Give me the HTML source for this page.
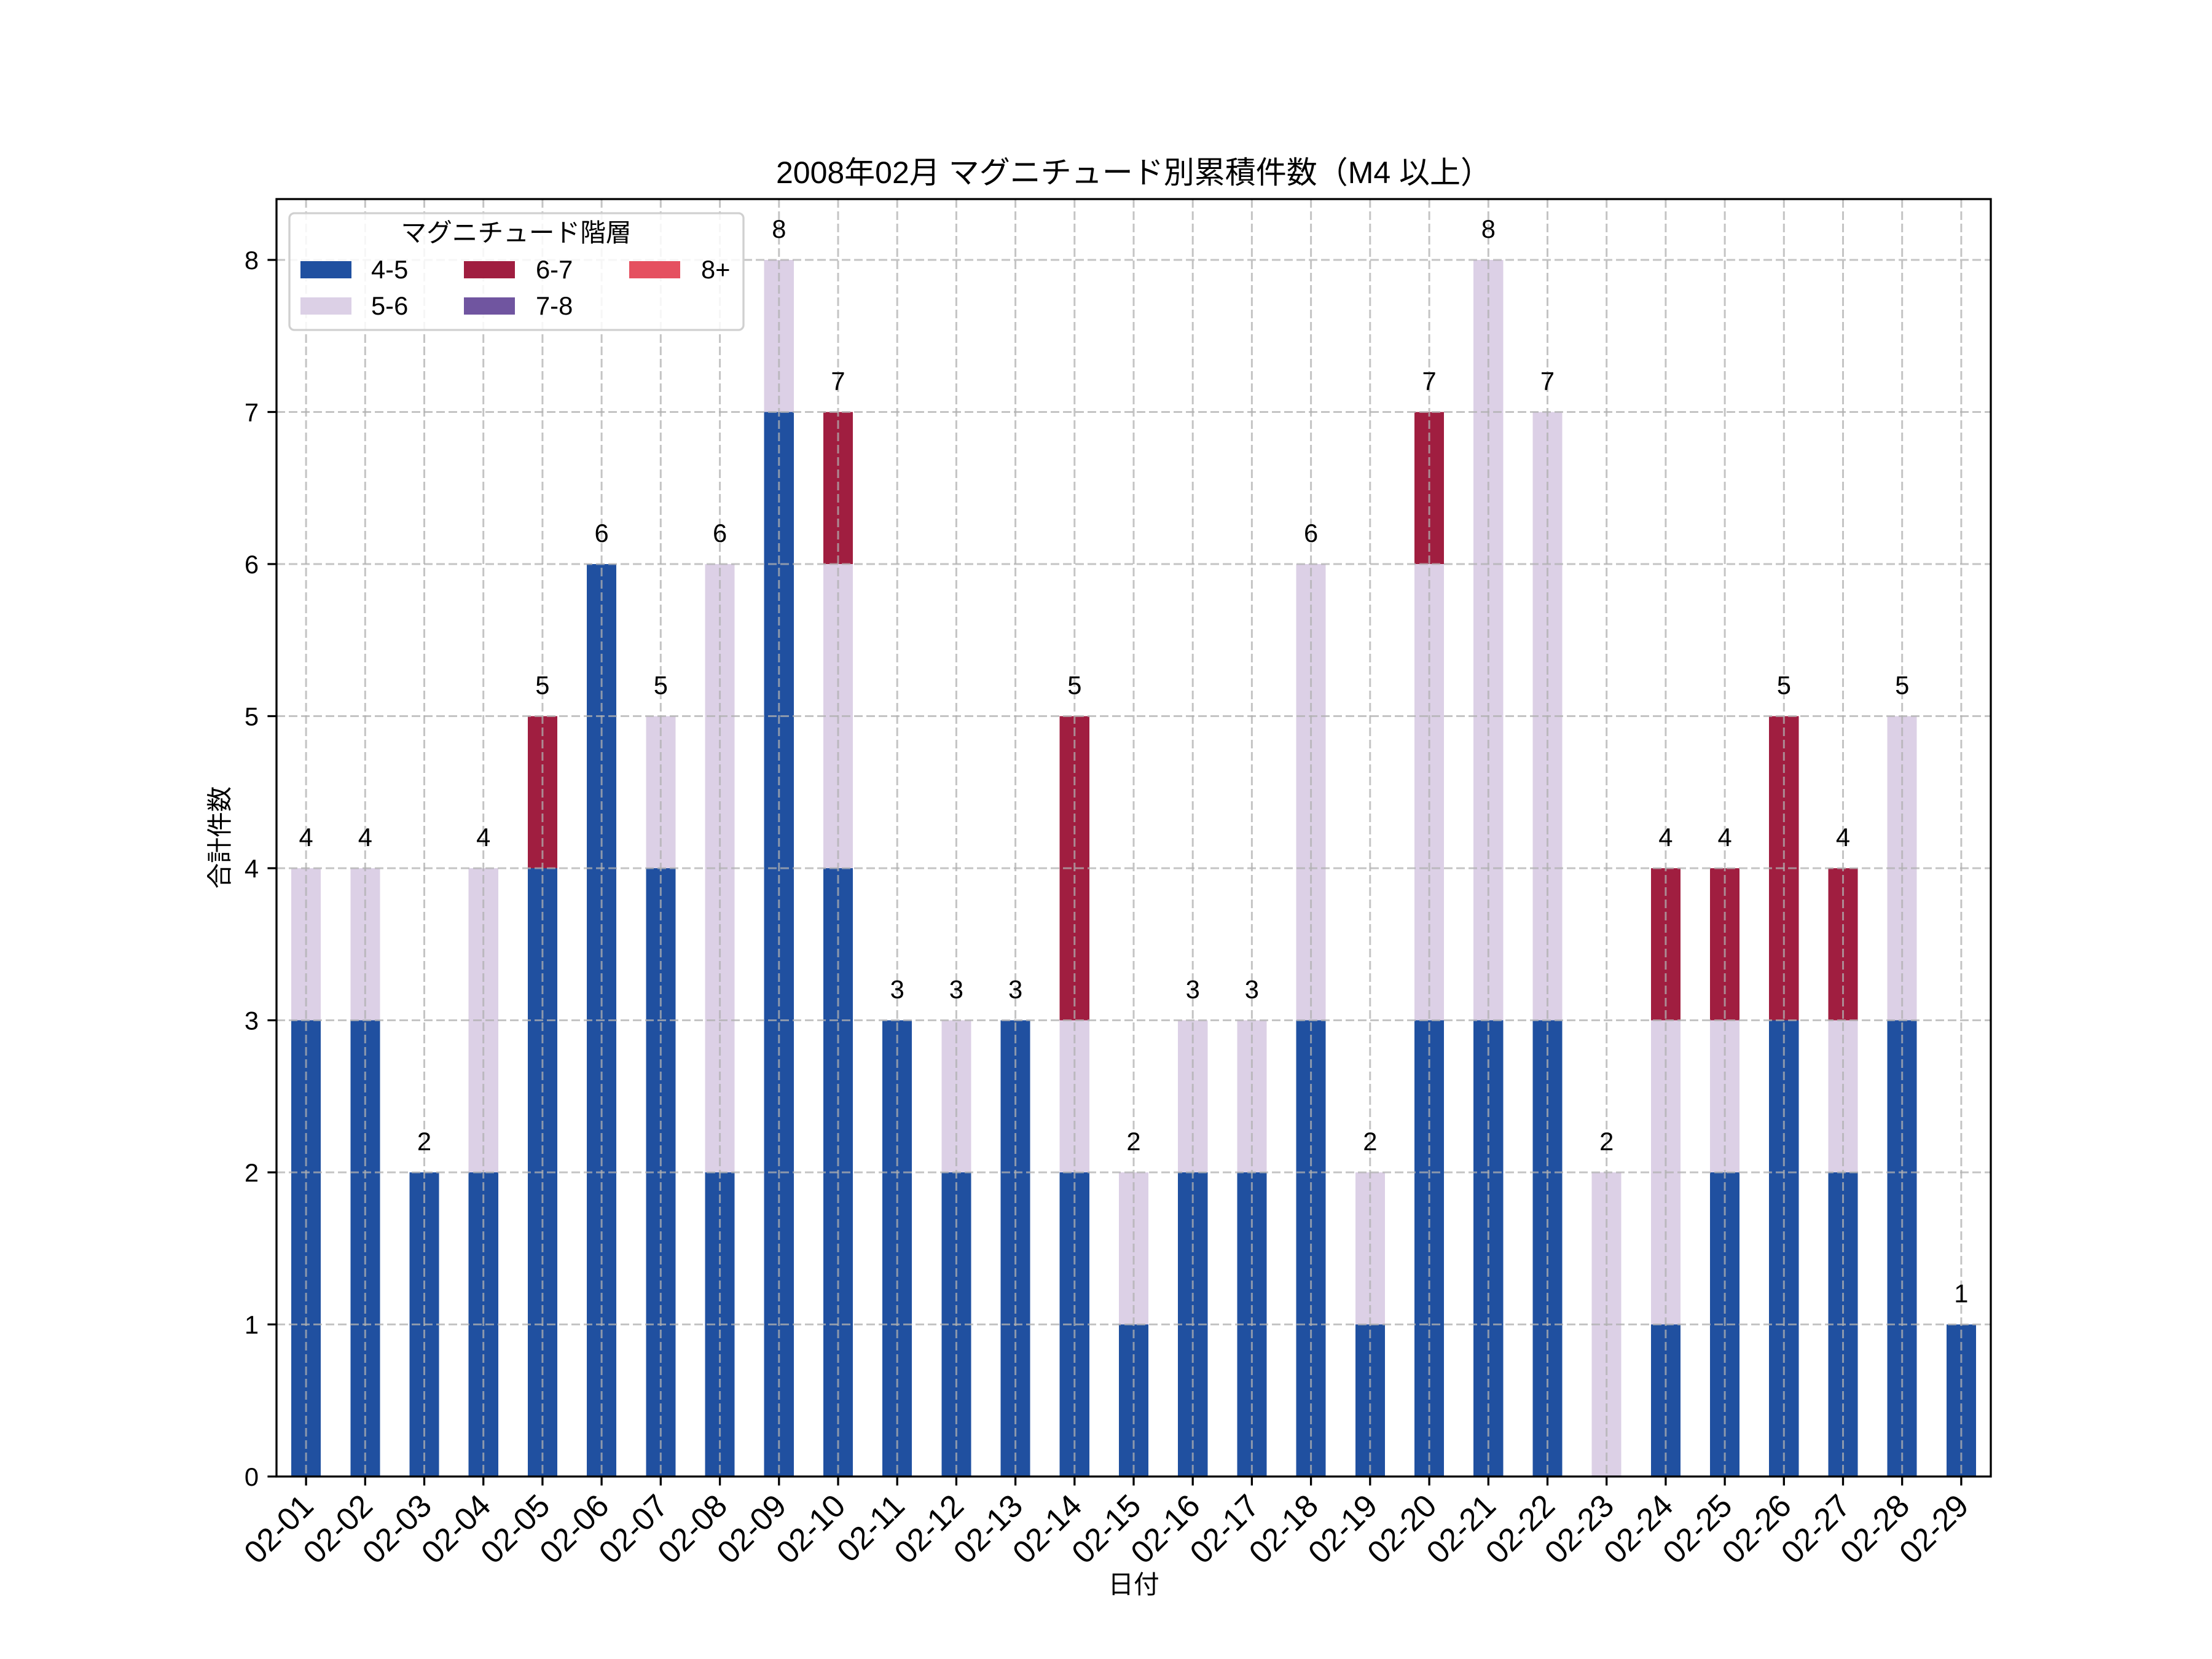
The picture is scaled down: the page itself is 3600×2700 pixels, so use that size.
<!DOCTYPE html>
<html><head><meta charset="utf-8"><style>
html,body{margin:0;padding:0;background:#fff}
svg{display:block}
text{font-family:"Liberation Sans","Noto Sans CJK JP",sans-serif;fill:#000}
</style></head><body>
<svg width="3600" height="2700" viewBox="0 0 3600 2700" xmlns="http://www.w3.org/2000/svg">
<rect width="3600" height="2700" fill="#fff"/>
<g transform="translate(450,2403) scale(96.2069,-247.5)" shape-rendering="crispEdges">
<g fill="#2050a0">
<rect x="0.25" y="0" width="0.5" height="3"/>
<rect x="1.25" y="0" width="0.5" height="3"/>
<rect x="2.25" y="0" width="0.5" height="2"/>
<rect x="3.25" y="0" width="0.5" height="2"/>
<rect x="4.25" y="0" width="0.5" height="4"/>
<rect x="5.25" y="0" width="0.5" height="6"/>
<rect x="6.25" y="0" width="0.5" height="4"/>
<rect x="7.25" y="0" width="0.5" height="2"/>
<rect x="8.25" y="0" width="0.5" height="7"/>
<rect x="9.25" y="0" width="0.5" height="4"/>
<rect x="10.25" y="0" width="0.5" height="3"/>
<rect x="11.25" y="0" width="0.5" height="2"/>
<rect x="12.25" y="0" width="0.5" height="3"/>
<rect x="13.25" y="0" width="0.5" height="2"/>
<rect x="14.25" y="0" width="0.5" height="1"/>
<rect x="15.25" y="0" width="0.5" height="2"/>
<rect x="16.25" y="0" width="0.5" height="2"/>
<rect x="17.25" y="0" width="0.5" height="3"/>
<rect x="18.25" y="0" width="0.5" height="1"/>
<rect x="19.25" y="0" width="0.5" height="3"/>
<rect x="20.25" y="0" width="0.5" height="3"/>
<rect x="21.25" y="0" width="0.5" height="3"/>
<rect x="23.25" y="0" width="0.5" height="1"/>
<rect x="24.25" y="0" width="0.5" height="2"/>
<rect x="25.25" y="0" width="0.5" height="3"/>
<rect x="26.25" y="0" width="0.5" height="2"/>
<rect x="27.25" y="0" width="0.5" height="3"/>
<rect x="28.25" y="0" width="0.5" height="1"/>
</g>
<g fill="#dcd0e6">
<rect x="0.25" y="3" width="0.5" height="1"/>
<rect x="1.25" y="3" width="0.5" height="1"/>
<rect x="3.25" y="2" width="0.5" height="2"/>
<rect x="6.25" y="4" width="0.5" height="1"/>
<rect x="7.25" y="2" width="0.5" height="4"/>
<rect x="8.25" y="7" width="0.5" height="1"/>
<rect x="9.25" y="4" width="0.5" height="2"/>
<rect x="11.25" y="2" width="0.5" height="1"/>
<rect x="13.25" y="2" width="0.5" height="1"/>
<rect x="14.25" y="1" width="0.5" height="1"/>
<rect x="15.25" y="2" width="0.5" height="1"/>
<rect x="16.25" y="2" width="0.5" height="1"/>
<rect x="17.25" y="3" width="0.5" height="3"/>
<rect x="18.25" y="1" width="0.5" height="1"/>
<rect x="19.25" y="3" width="0.5" height="3"/>
<rect x="20.25" y="3" width="0.5" height="5"/>
<rect x="21.25" y="3" width="0.5" height="4"/>
<rect x="22.25" y="0" width="0.5" height="2"/>
<rect x="23.25" y="1" width="0.5" height="2"/>
<rect x="24.25" y="2" width="0.5" height="1"/>
<rect x="26.25" y="2" width="0.5" height="1"/>
<rect x="27.25" y="3" width="0.5" height="2"/>
</g>
<g fill="#a01e40">
<rect x="4.25" y="4" width="0.5" height="1"/>
<rect x="9.25" y="6" width="0.5" height="1"/>
<rect x="13.25" y="3" width="0.5" height="2"/>
<rect x="19.25" y="6" width="0.5" height="1"/>
<rect x="23.25" y="3" width="0.5" height="1"/>
<rect x="24.25" y="3" width="0.5" height="1"/>
<rect x="25.25" y="3" width="0.5" height="2"/>
<rect x="26.25" y="3" width="0.5" height="1"/>
</g>
</g>
<!-- grid -->
<g stroke="#b0b0b0" stroke-opacity="0.75" stroke-width="3" stroke-dasharray="14,6" fill="none">
<path d="M450 2155.5H3240M450 1908H3240M450 1660.5H3240M450 1413H3240M450 1165.5H3240M450 918H3240M450 670.5H3240M450 423H3240"/>
<path d="M498.1 324V2403M594.3 324V2403M690.5 324V2403M786.7 324V2403M882.9 324V2403M979.1 324V2403M1075.3 324V2403M1171.6 324V2403M1267.8 324V2403M1364 324V2403M1460.2 324V2403M1556.4 324V2403M1652.6 324V2403M1748.8 324V2403M1845 324V2403M1941.2 324V2403M2037.4 324V2403M2133.6 324V2403M2229.8 324V2403M2326.1 324V2403M2422.3 324V2403M2518.5 324V2403M2614.7 324V2403M2710.9 324V2403M2807.1 324V2403M2903.3 324V2403M2999.5 324V2403M3095.7 324V2403M3191.9 324V2403"/>
</g>
<!-- spines -->
<rect x="450" y="324" width="2790" height="2079" fill="none" stroke="#000" stroke-width="3.3"/>
<!-- ticks -->
<g stroke="#000" stroke-width="3.3">
<path d="M435.4 2403H450M435.4 2155.5H450M435.4 1908H450M435.4 1660.5H450M435.4 1413H450M435.4 1165.5H450M435.4 918H450M435.4 670.5H450M435.4 423H450"/>
<path d="M498.1 2403v14.6M594.3 2403v14.6M690.5 2403v14.6M786.7 2403v14.6M882.9 2403v14.6M979.1 2403v14.6M1075.3 2403v14.6M1171.6 2403v14.6M1267.8 2403v14.6M1364 2403v14.6M1460.2 2403v14.6M1556.4 2403v14.6M1652.6 2403v14.6M1748.8 2403v14.6M1845 2403v14.6M1941.2 2403v14.6M2037.4 2403v14.6M2133.6 2403v14.6M2229.8 2403v14.6M2326.1 2403v14.6M2422.3 2403v14.6M2518.5 2403v14.6M2614.7 2403v14.6M2710.9 2403v14.6M2807.1 2403v14.6M2903.3 2403v14.6M2999.5 2403v14.6M3095.7 2403v14.6M3191.9 2403v14.6"/>
</g>
<g font-size="41.7" text-anchor="end">
<text x="421" y="2418">0</text><text x="421" y="2170.5">1</text><text x="421" y="1923">2</text><text x="421" y="1675.5">3</text><text x="421" y="1428">4</text><text x="421" y="1180.5">5</text><text x="421" y="933">6</text><text x="421" y="685.5">7</text><text x="421" y="438">8</text>
</g>
<g font-size="52" text-anchor="end">
<text transform="translate(513.1,2454) rotate(-45)">02-01</text>
<text transform="translate(609.3,2454) rotate(-45)">02-02</text>
<text transform="translate(705.5,2454) rotate(-45)">02-03</text>
<text transform="translate(801.7,2454) rotate(-45)">02-04</text>
<text transform="translate(897.9,2454) rotate(-45)">02-05</text>
<text transform="translate(994.1,2454) rotate(-45)">02-06</text>
<text transform="translate(1090.3,2454) rotate(-45)">02-07</text>
<text transform="translate(1186.6,2454) rotate(-45)">02-08</text>
<text transform="translate(1282.8,2454) rotate(-45)">02-09</text>
<text transform="translate(1379,2454) rotate(-45)">02-10</text>
<text transform="translate(1475.2,2454) rotate(-45)">02-11</text>
<text transform="translate(1571.4,2454) rotate(-45)">02-12</text>
<text transform="translate(1667.6,2454) rotate(-45)">02-13</text>
<text transform="translate(1763.8,2454) rotate(-45)">02-14</text>
<text transform="translate(1860,2454) rotate(-45)">02-15</text>
<text transform="translate(1956.2,2454) rotate(-45)">02-16</text>
<text transform="translate(2052.4,2454) rotate(-45)">02-17</text>
<text transform="translate(2148.6,2454) rotate(-45)">02-18</text>
<text transform="translate(2244.8,2454) rotate(-45)">02-19</text>
<text transform="translate(2341.1,2454) rotate(-45)">02-20</text>
<text transform="translate(2437.3,2454) rotate(-45)">02-21</text>
<text transform="translate(2533.5,2454) rotate(-45)">02-22</text>
<text transform="translate(2629.7,2454) rotate(-45)">02-23</text>
<text transform="translate(2725.9,2454) rotate(-45)">02-24</text>
<text transform="translate(2822.1,2454) rotate(-45)">02-25</text>
<text transform="translate(2918.3,2454) rotate(-45)">02-26</text>
<text transform="translate(3014.5,2454) rotate(-45)">02-27</text>
<text transform="translate(3110.7,2454) rotate(-45)">02-28</text>
<text transform="translate(3206.9,2454) rotate(-45)">02-29</text>
</g>
<!-- value labels -->
<g font-size="41.7" text-anchor="middle">
<text x="498.1" y="1377">4</text>
<text x="594.3" y="1377">4</text>
<text x="690.5" y="1872">2</text>
<text x="786.7" y="1377">4</text>
<text x="882.9" y="1129.5">5</text>
<text x="979.1" y="882">6</text>
<text x="1075.3" y="1129.5">5</text>
<text x="1171.6" y="882">6</text>
<text x="1267.8" y="387">8</text>
<text x="1364" y="634.5">7</text>
<text x="1460.2" y="1624.5">3</text>
<text x="1556.4" y="1624.5">3</text>
<text x="1652.6" y="1624.5">3</text>
<text x="1748.8" y="1129.5">5</text>
<text x="1845" y="1872">2</text>
<text x="1941.2" y="1624.5">3</text>
<text x="2037.4" y="1624.5">3</text>
<text x="2133.6" y="882">6</text>
<text x="2229.8" y="1872">2</text>
<text x="2326.1" y="634.5">7</text>
<text x="2422.3" y="387">8</text>
<text x="2518.5" y="634.5">7</text>
<text x="2614.7" y="1872">2</text>
<text x="2710.9" y="1377">4</text>
<text x="2807.1" y="1377">4</text>
<text x="2903.3" y="1129.5">5</text>
<text x="2999.5" y="1377">4</text>
<text x="3095.7" y="1129.5">5</text>
<text x="3191.9" y="2119.5">1</text>
</g>
<!-- legend -->
<rect x="471" y="347" width="739" height="190" rx="8" fill="#fff" fill-opacity="0.85" stroke="#d0d0d0" stroke-width="3.3"/>
<text x="840" y="393" font-size="41.7" text-anchor="middle">マグニチュード階層</text>
<rect x="489" y="425" width="83" height="28" fill="#2050a0"/>
<rect x="489" y="484" width="83" height="28" fill="#dcd0e6"/>
<rect x="755" y="425" width="83" height="28" fill="#a01e40"/>
<rect x="755" y="484" width="83" height="28" fill="#7055a0"/>
<rect x="1024" y="425" width="83" height="28" fill="#e55060"/>
<g font-size="41.7">
<text x="604" y="453">4-5</text>
<text x="604" y="512">5-6</text>
<text x="872" y="453">6-7</text>
<text x="872" y="512">7-8</text>
<text x="1141" y="453">8+</text>
</g>
<!-- titles -->
<text x="1845" y="298" font-size="50" text-anchor="middle">2008年02月 マグニチュード別累積件数（M4 以上）</text>
<text transform="translate(372,1363) rotate(-90)" font-size="41.7" text-anchor="middle">合計件数</text>
<text x="1845" y="2593" font-size="41.7" text-anchor="middle">日付</text>
</svg>
</body></html>
